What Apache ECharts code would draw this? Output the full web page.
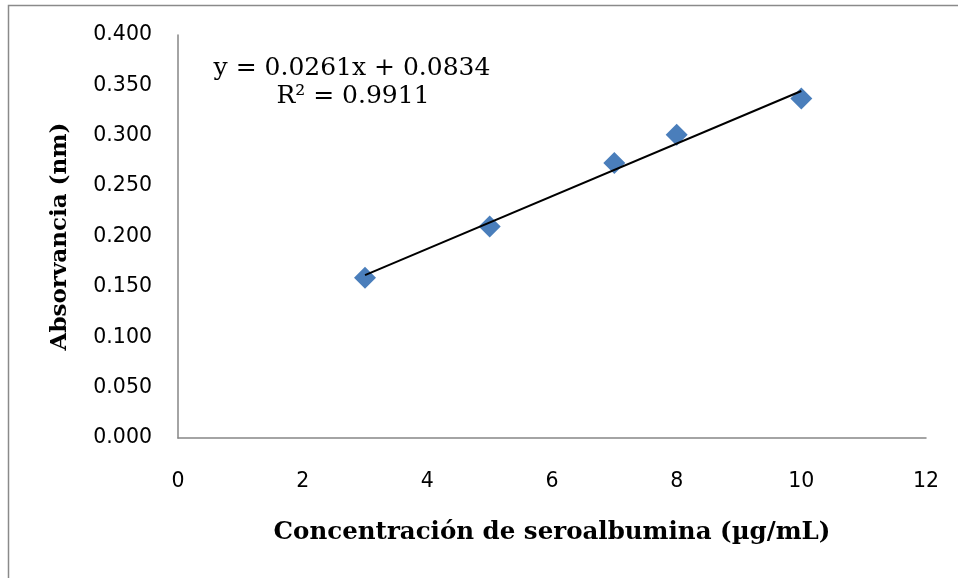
<!DOCTYPE html>
<html>
<head>
  <meta charset="utf-8">
  <title>Curva de calibración</title>
  <style>
  html, body { margin: 0; padding: 0; background: #fff; }
  #chart { width: 958px; height: 578px; }
  </style>
</head>
<body>
  <div id="chart"></div>
  <script src="https://cdn.jsdelivr.net/npm/echarts@6/dist/echarts.min.js"></script>
  <script>
  // concentración (µg/mL) y absorbancia
  const concentracion = [3, 5, 7, 8, 10];
  const absorbancia = [0.159, 0.210, 0.273, 0.301, 0.337];
  const pendiente = 0.0261;
  const intercepto = 0.0834;
  const xTicks = [0, 12, 2];
  const yTicks = [0, 0.4, 0.05];

  const puntos = concentracion.map((x, i) => [x, absorbancia[i]]);
  // línea de tendencia entre el primer y último punto
  const xIni = concentracion[0], xFin = concentracion[concentracion.length - 1];
  const tendencia = [[xIni, pendiente * xIni + intercepto], [xFin, pendiente * xFin + intercepto]];

  let myChart = echarts.init(document.getElementById('chart'));
  let option = {
    animation: false,
    grid: { left: 178, right: 32, top: 35, bottom: 140 },
    graphic: [{
      type: 'rect',
      shape: { x: 8.5, y: 5.5, width: 1000, height: 700 },
      style: { fill: 'none', stroke: '#8a8a8a', lineWidth: 1.5 },
      silent: true
    }, {
      type: 'text',
      x: 352, y: 68,
      style: {
        text: 'y = 0.0261x + 0.0834',
        fontFamily: 'DejaVu Serif', fontSize: 25,
        fill: '#000', align: 'center', verticalAlign: 'middle'
      }
    }, {
      type: 'text',
      x: 353, y: 96,
      style: {
        text: 'R² = 0.9911',
        fontFamily: 'DejaVu Serif', fontSize: 25,
        fill: '#000', align: 'center', verticalAlign: 'middle'
      }
    }],
    xAxis: {
      type: 'value',
      min: xTicks[0], max: xTicks[1], interval: xTicks[2],
      name: 'Concentración de seroalbumina (µg/mL)',
      nameLocation: 'middle',
      nameGap: 82,
      nameTextStyle: { fontFamily: 'DejaVu Serif', fontWeight: 'bold', fontSize: 24.5, color: '#000' },
      axisLine: { lineStyle: { color: '#868686', width: 1.5 } },
      axisTick: { show: false },
      splitLine: { show: false },
      axisLabel: { margin: 33, fontFamily: 'DejaVu Sans', fontSize: 20.5, color: '#000' }
    },
    yAxis: {
      type: 'value',
      min: yTicks[0], max: yTicks[1], interval: yTicks[2],
      name: 'Absorvancia (nm)',
      nameLocation: 'middle',
      nameGap: 106,
      nameTextStyle: { fontFamily: 'DejaVu Serif', fontWeight: 'bold', fontSize: 23, color: '#000' },
      axisLine: { show: true, lineStyle: { color: '#868686', width: 1.5 } },
      axisTick: { show: false },
      splitLine: { show: false },
      axisLabel: {
        margin: 26, fontFamily: 'DejaVu Sans', fontSize: 20.5, color: '#000',
        formatter: v => v.toFixed(3)
      }
    },
    series: [{
      name: 'tendencia',
      type: 'line',
      data: tendencia,
      symbol: 'none',
      lineStyle: { color: '#000', width: 2 },
      silent: true,
      z: 3
    }, {
      name: 'absorbancia',
      type: 'scatter',
      data: puntos,
      symbol: 'diamond',
      symbolSize: 22,
      itemStyle: { color: '#4a7ebb', opacity: 1 },
      z: 2
    }]
  };
  myChart.setOption(option);
  </script>
</body>
</html>
